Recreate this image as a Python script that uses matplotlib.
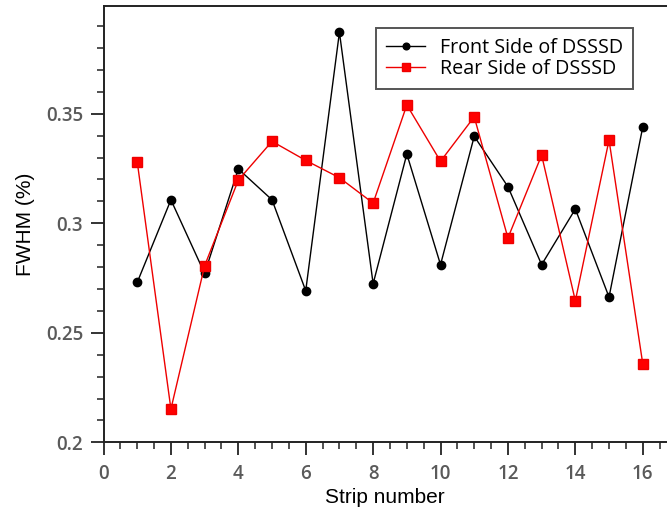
import matplotlib
matplotlib.use("Agg")
from matplotlib import pyplot as plt
from matplotlib.ticker import MultipleLocator

# FWHM per strip, both sides of the detector
strips = [1, 2, 3, 4, 5, 6, 7, 8, 9, 10, 11, 12, 13, 14, 15, 16]
front_fwhm = [0.273, 0.3107, 0.2771, 0.3248, 0.3107, 0.2692, 0.3872, 0.2724,
              0.3316, 0.2811, 0.3397, 0.3167, 0.2811, 0.3065, 0.2663, 0.3439]
rear_fwhm = [0.3281, 0.2152, 0.2806, 0.3197, 0.3374, 0.3287, 0.3208, 0.3092,
             0.354, 0.3283, 0.3486, 0.2933, 0.3311, 0.2646, 0.338, 0.2359]

x_ticks = [0, 2, 4, 6, 8, 10, 12, 14, 16]
y_ticks = [0.2, 0.25, 0.3, 0.35]
y_tick_labels = ['0.2', '0.25', '0.3', '0.35']

fig = plt.figure(figsize=(6.67, 5.11), dpi=100)
ax = fig.add_axes([0.1552, 0.1344, 0.8448, 0.8539])

ax.plot(strips, front_fwhm, color='black', lw=1.0, marker='o', ms=6,
        label='Front Side of DSSSD')
ax.plot(strips, rear_fwhm, color='#ee0000', lw=1.0, marker='s', ms=7,
        mec='#ee0000', mfc='#ff0000', label='Rear Side of DSSSD')

ax.set_xlim(0, 16.72)
ax.set_ylim(0.2, 0.3992)
ax.set_xticks(x_ticks)
ax.set_yticks(y_ticks)
ax.set_yticklabels(y_tick_labels)
ax.xaxis.set_minor_locator(MultipleLocator(0.5))
ax.yaxis.set_minor_locator(MultipleLocator(0.01))

ax.spines['right'].set_visible(False)
for s in ['left', 'bottom', 'top']:
    ax.spines[s].set_linewidth(1.4)
    ax.spines[s].set_color('#222222')

ax.tick_params(which='major', length=9.1, width=1.4, color='#333333')
ax.tick_params(which='minor', length=5, width=1.2, color='#333333')
ax.tick_params(axis='y', which='major', pad=5.5)
ax.tick_params(axis='x', which='major', pad=6.3)
for lab in ax.get_xticklabels() + ax.get_yticklabels():
    lab.set_fontfamily('Open Sans')
    lab.set_fontweight('semibold')
    lab.set_fontsize(13.5)
    lab.set_color('#5a5a5a')

ax.set_xlabel('Strip number', fontsize=15, family='Liberation Sans', labelpad=3)
ax.set_ylabel('FWHM (%)', fontsize=15, family='Liberation Sans', labelpad=8)

leg = ax.legend(loc='upper right', bbox_to_anchor=(0.9397, 0.9496),
                prop={'family': 'Open Sans', 'size': 14.2}, fancybox=False,
                handlelength=2.0, borderpad=0.5, labelspacing=0.05,
                handletextpad=0.75, borderaxespad=0, markerscale=0.8)
leg.get_frame().set_edgecolor('#555555')
leg.get_frame().set_linewidth(1.4)
leg.get_frame().set_alpha(1)

fig.savefig('out.png', dpi=100)
